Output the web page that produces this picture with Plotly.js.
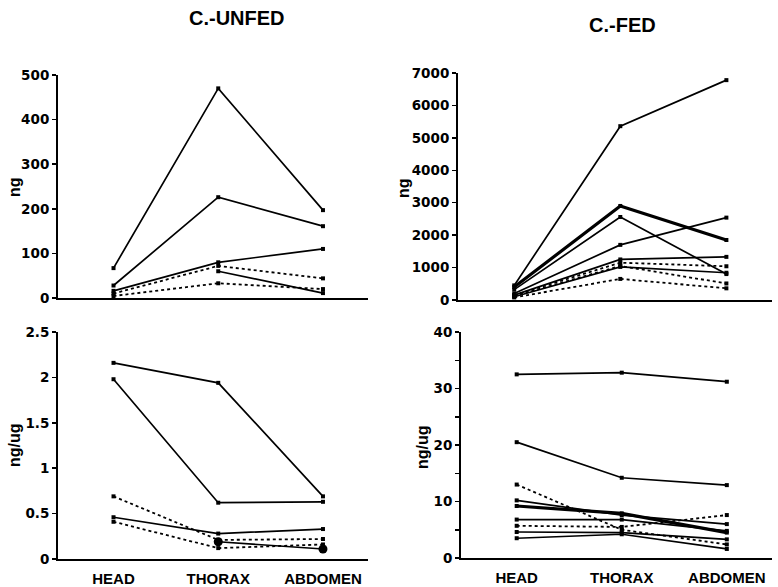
<!DOCTYPE html>
<html>
<head>
<meta charset="utf-8">
<script src="https://cdn.plot.ly/plotly-3.0.1.min.js"></script>
<style>html,body{margin:0;padding:0;background:#fff}#chart{width:778px;height:587px}</style>
</head>
<body>
<div id="chart"></div>
<script>
// ---- data ----
const categories = ["HEAD", "THORAX", "ABDOMEN"];

// C.-UNFED, ng
const unfedNg = [
  {y: [67, 470, 197], style: "solid"},
  {y: [28, 226, 161], style: "solid"},
  {y: [16, 80, 110], style: "solid"},
  {y: [null, 60, 11], style: "solid"},
  {y: [10, 72, 44], style: "dash"},
  {y: [4.5, 33, 20], style: "dash"}
];
// C.-UNFED, ng/ug
const unfedNgUg = [
  {y: [2.16, 1.94, 0.69], style: "solid"},
  {y: [1.98, 0.62, 0.63], style: "solid"},
  {y: [0.69, 0.21, 0.22], style: "dash"},
  {y: [0.46, 0.28, 0.33], style: "solid"},
  {y: [0.41, 0.12, 0.16], style: "dash"},
  {y: [null, 0.19, 0.11], style: "bigdot"}
];
// C.-FED, ng
const fedNg = [
  {y: [450, 5360, 6780], style: "solid"},
  {y: [400, 2900, 1850], style: "thick"},
  {y: [320, 2560, 800], style: "solid"},
  {y: [200, 1700, 2540], style: "solid"},
  {y: [150, 1250, 1330], style: "solid"},
  {y: [100, 1020, 840], style: "solid"},
  {y: [150, 1150, 1040], style: "dash"},
  {y: [120, 1050, 510], style: "dash"},
  {y: [80, 650, 360], style: "dash"}
];
// C.-FED, ng/ug
const fedNgUg = [
  {y: [32.5, 32.8, 31.2], style: "solid"},
  {y: [20.5, 14.2, 12.9], style: "solid"},
  {y: [13, 5.0, 2.4], style: "dash"},
  {y: [9.2, 7.9, 4.5], style: "thick"},
  {y: [10.2, 7.6, 6.0], style: "solid"},
  {y: [6.8, 6.8, 4.8], style: "solid"},
  {y: [4.6, 4.5, 3.3], style: "solid"},
  {y: [3.5, 4.2, 1.6], style: "solid"},
  {y: [5.7, 5.5, 7.6], style: "dash"}
];

const titles = ["C.-UNFED", "C.-FED"];
const yTitles = ["ng", "ng/ug"];

// ---- build ----
function lineFor(style) {
  if (style === "thick") return {color: "#000", width: 3.2};
  if (style === "dash") return {color: "#000", width: 1.8, dash: "3px,3px"};
  return {color: "#000", width: 1.7};
}
const traces = [];
function addSet(set, xa, ya) {
  set.forEach(s => {
    traces.push({
      x: categories, y: s.y, xaxis: xa, yaxis: ya,
      type: "scatter", mode: "lines+markers",
      line: lineFor(s.style),
      marker: s.style === "bigdot" ? {symbol: "circle", size: 9, color: "#000"} : {symbol: "square", size: 4, color: "#000"},
      showlegend: false, hoverinfo: "skip", connectgaps: false
    });
  });
}
addSet(unfedNg, "x", "y");
addSet(fedNg, "x2", "y2");
addSet(unfedNgUg, "x3", "y3");
addSet(fedNgUg, "x4", "y4");

const W = 778, H = 587;
const fx = p => p / W;
const fy = p => (H - p) / H;
const SANS = "Liberation Sans, Arial, sans-serif";
const tickFont = {family: "DejaVu Sans, sans-serif", size: 13.5, color: "#000", weight: "bold"};

function xAxis(l, r, showLabels) {
  return {
    domain: [fx(l), fx(r)], range: [-0.53, 2.43], type: "category",
    showline: true, linecolor: "#000", linewidth: 2, ticks: "", showgrid: false, zeroline: false,
    showticklabels: showLabels, tickfont: {family: SANS, size: 15, color: "#000", weight: "bold"},
    ticklabelstandoff: 5, fixedrange: true
  };
}
function yAxis(b, t, range, dtick, anchor, minor) {
  const a = {
    domain: [fy(b), fy(t)], range: range, dtick: dtick, tick0: 0, anchor: anchor,
    showline: true, linecolor: "#000", linewidth: 2, ticks: "outside", ticklen: 4, tickwidth: 1.5, tickcolor: "#000",
    showgrid: false, zeroline: false, tickfont: tickFont, fixedrange: true
  };
  if (minor) a.minor = {dtick: minor, ticks: "outside", ticklen: 4, tickwidth: 1.5, tickcolor: "#000", showgrid: false};
  return a;
}
function note(text, px, py, size, angle) {
  return {text: text, x: fx(px), y: fy(py), xref: "paper", yref: "paper", showarrow: false,
    xanchor: "center", yanchor: "middle", textangle: angle || 0,
    font: {family: SANS, size: size, color: "#000", weight: "bold"}};
}

const layout = {
  width: W, height: H, margin: {l: 0, r: 0, t: 0, b: 0},
  paper_bgcolor: "#fff", plot_bgcolor: "#fff",
  xaxis: Object.assign(xAxis(58, 368, false), {anchor: "y"}),
  yaxis: yAxis(298, 75, [0, 500], 100, "x"),
  xaxis2: Object.assign(xAxis(458, 772, false), {anchor: "y2"}),
  yaxis2: yAxis(300, 73, [0, 7000], 1000, "x2"),
  xaxis3: Object.assign(xAxis(58, 368, true), {anchor: "y3"}),
  yaxis3: yAxis(559, 332, [0, 2.5], 0.5, "x3"),
  xaxis4: Object.assign(xAxis(461, 772, true), {anchor: "y4"}),
  yaxis4: yAxis(558, 332, [0, 40], 10, "x4", 5),
  annotations: [
    note(titles[0], 237, 18, 20),
    note(titles[1], 622, 25, 20),
    note(yTitles[0], 14, 187, 16, -90),
    note(yTitles[1], 14, 445, 16, -90),
    note(yTitles[0], 403, 188, 16, -90),
    note(yTitles[1], 422, 447, 16, -90)
  ]
};

Plotly.newPlot("chart", traces, layout, {displayModeBar: false, staticPlot: true});
</script>
</body>
</html>
